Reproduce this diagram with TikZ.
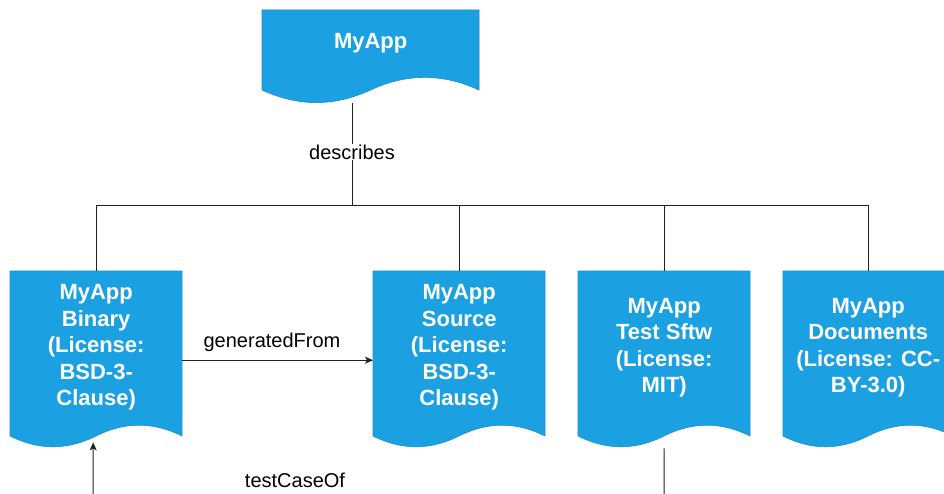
\documentclass[tikz,border=0pt]{standalone}
\usepackage{fontspec}
\setmainfont{Liberation Sans}
\usetikzlibrary{arrows.meta}
\definecolor{docblue}{HTML}{1BA1E2}
\definecolor{docedge}{HTML}{1690D0}
\definecolor{linkgray}{HTML}{222222}

% Document shape with a wavy bottom edge.
% #1 name, #2 left, #3 top, #4 width, #5 height, #6 wave depth, #7 text
\newcommand\docbox[7]{%
  \pgfmathsetmacro\dbR{#2+#4}%
  \pgfmathsetmacro\dbS{#3+#5-#6/2}%
  \pgfmathsetmacro\dbA{#2+5*#4/6}%
  \pgfmathsetmacro\dbB{#2+2*#4/3}%
  \pgfmathsetmacro\dbM{#2+#4/2}%
  \pgfmathsetmacro\dbC{#2+#4/3}%
  \pgfmathsetmacro\dbD{#2+#4/6}%
  \pgfmathsetmacro\dbU{\dbS-0.6*#6}%
  \pgfmathsetmacro\dbL{\dbS+0.6*#6}%
  \pgfmathsetmacro\dbH{#5-#6}%
  \filldraw[docshape] (#2,#3) -- (\dbR,#3) -- (\dbR,\dbS)
    .. controls (\dbA,\dbU) and (\dbB,\dbU) .. (\dbM,\dbS)
    .. controls (\dbC,\dbL) and (\dbD,\dbL) .. (#2,\dbS) -- cycle;
  \node[doctext, minimum width=#4pt, minimum height=\dbH pt, anchor=north west] (#1) at (#2,#3) {#7};
}

\begin{document}
\begin{tikzpicture}[x=1pt, y=-1pt,
  docshape/.style={fill=docblue, draw=docedge, line width=0.6pt},
  doctext/.style={text=white, font=\bfseries\fontsize{22}{26.5}\selectfont, align=center, inner sep=0pt},
  conn/.style={draw=linkgray, line width=1pt},
  arrow/.style={conn, -{Stealth[length=8pt, width=7pt, inset=2pt]}},
  lbl/.style={font=\fontsize{20}{24}\selectfont, text=black, inner sep=1pt},
  lblbg/.style={lbl, fill=white}]

\useasboundingbox (0,0) rectangle (944,494);
\fill[white] (0,0) rectangle (944,494);
\clip (0,0) rectangle (944,494);

% documents
\docbox{myapp}{262}{10}{217}{94}{28}{MyApp}
\docbox{binary}{10}{271}{172}{177}{24}{MyApp\\Binary\\(License:\\BSD-3-\\Clause)}
\docbox{source}{373}{271}{172}{177}{24}{MyApp\\Source\\(License:\\BSD-3-\\Clause)}
\docbox{test}{578}{271}{172}{177}{24}{MyApp\\Test Sftw\\(License:\\MIT)}
\docbox{documents}{783}{271}{170}{177}{24}{MyApp\\Documents\\(License: CC-\\BY-3.0)}

% "describes" tree
\coordinate (descTop) at (352,103);
\coordinate (hub) at (352,206);
\draw[conn] (descTop) -- node[lblbg, pos=0.476] (desclbl) {describes} (hub);
\draw[conn] (binary.north) -- (binary.north |- hub) -- (documents.north |- hub) -- (documents.north);
\draw[conn] (source.north) -- (source.north |- hub);
\draw[conn] (test.north) -- (test.north |- hub);

% generatedFrom
\draw[arrow] ([yshift=-12.5pt]binary.east) -- node[lbl, pos=0.47, yshift=18pt] (genlbl) {generatedFrom} ([yshift=-12.5pt]source.west);

% testCaseOf (routed below the documents)
\coordinate (lowR) at (664,540);
\coordinate (lowL) at (93,540);
\draw[arrow] ([yshift=-24pt]test.south) -- (lowR) -- (lowL) -- ([xshift=-3pt, yshift=-18pt]binary.south);
\node[lbl] (tclbl) at (295,480) {testCaseOf};

\end{tikzpicture}
\end{document}
